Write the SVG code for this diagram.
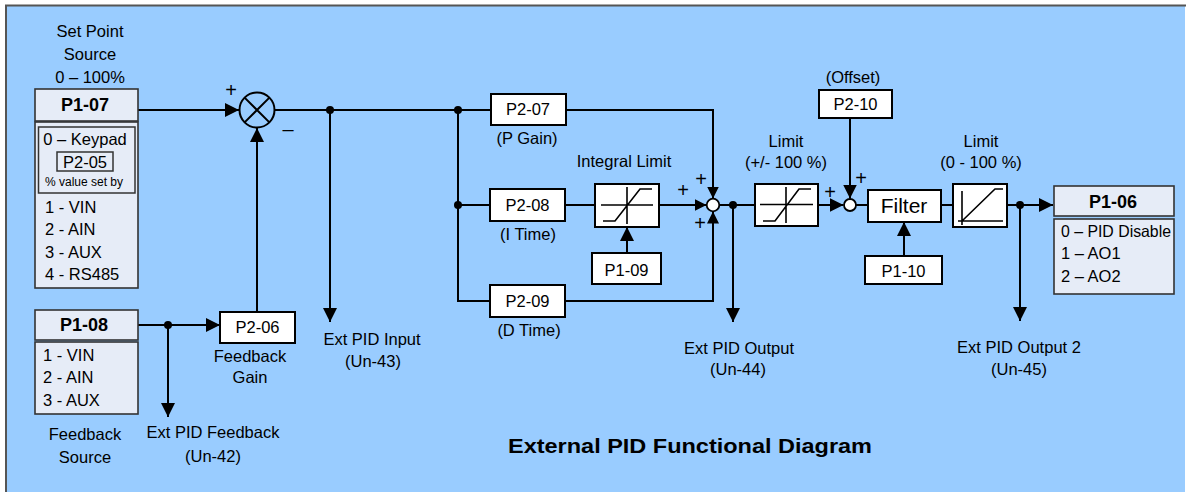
<svg xmlns="http://www.w3.org/2000/svg" width="1186" height="492" viewBox="0 0 1186 492">
<style>
text{font-family:"Liberation Sans",Arial,sans-serif;font-size:16.5px;fill:#000}
.m{text-anchor:middle}
.b{font-weight:bold;font-size:18px}
.sm{font-size:12px}
.pl{font-size:20px}
.wb{fill:#fff;stroke:#000;stroke-width:2}
.lb{fill:#E6ECF7;stroke:#333;stroke-width:1.6}
.ln{fill:none;stroke:#000;stroke-width:2}
.sym{fill:none;stroke:#000;stroke-width:1.6}
.dot{fill:#000}
</style>
<defs>
<marker id="a" markerUnits="userSpaceOnUse" markerWidth="14" markerHeight="14" refX="14" refY="7" orient="auto">
<path d="M0,0 L14,7 L0,14 z" fill="#000"/>
</marker>
<marker id="s" markerUnits="userSpaceOnUse" markerWidth="12" markerHeight="12" refX="12" refY="6" orient="auto">
<path d="M0,0 L12,6 L0,12 z" fill="#000"/>
</marker>
</defs>
<rect x="0" y="0" width="1186" height="492" fill="#fff"/>
<rect x="6" y="5" width="1179" height="487" fill="#99CCFF"/>
<path d="M6,492 V5.5 H1186" fill="none" stroke="#555" stroke-width="2"/>

<g id="connectors">
<path class="ln" d="M138,110 H239" marker-end="url(#a)"/>
<path class="ln" d="M274.5,110 H491"/>
<path class="ln" d="M330,110 V322" marker-end="url(#a)"/>
<path class="ln" d="M458,110 V301 H490"/>
<path class="ln" d="M458,205 H490"/>
<path class="ln" d="M566,110 H713 V198.5" marker-end="url(#s)"/>
<path class="ln" d="M565,205 H595"/>
<path class="ln" d="M659,205 H706.5" marker-end="url(#s)"/>
<path class="ln" d="M565,301 H713 V211.5" marker-end="url(#s)"/>
<path class="ln" d="M719.5,205 H755"/>
<path class="ln" d="M733,205 V322" marker-end="url(#a)"/>
<path class="ln" d="M627,253 V227" marker-end="url(#a)"/>
<path class="ln" d="M818,205 H843.5" marker-end="url(#a)"/>
<path class="ln" d="M850,118 V198.5" marker-end="url(#a)"/>
<path class="ln" d="M856,205 H868"/>
<path class="ln" d="M904,256 V222" marker-end="url(#a)"/>
<path class="ln" d="M941,205 H953"/>
<path class="ln" d="M1007,205 H1053" marker-end="url(#a)"/>
<path class="ln" d="M1020,205 V321" marker-end="url(#a)"/>
<path class="ln" d="M138,325 H220" marker-end="url(#a)"/>
<path class="ln" d="M168,325 V417" marker-end="url(#a)"/>
<path class="ln" d="M257,312 V128" marker-end="url(#a)"/>
<circle class="dot" cx="330" cy="110" r="4"/>
<circle class="dot" cx="458" cy="110" r="4"/>
<circle class="dot" cx="458" cy="205" r="4"/>
<circle class="dot" cx="733" cy="205" r="4"/>
<circle class="dot" cx="1020" cy="205" r="4"/>
<circle class="dot" cx="168" cy="325" r="4"/>
</g>

<g id="setpoint-label">
<text class="m" x="90" y="37">Set Point</text>
<text class="m" x="90" y="60">Source</text>
<text class="m" x="90" y="83">0 – 100%</text>
</g>
<g id="p1-07">
<rect class="lb" x="35" y="89" width="103" height="32"/>
<text class="m b" x="85" y="111">P1-07</text>
<rect class="lb" x="35" y="122" width="103" height="166"/>
<rect x="38.5" y="127" width="96.5" height="66" fill="none" stroke="#333" stroke-width="1.5"/>
<text class="m" x="85" y="145">0 – Keypad</text>
<rect x="57" y="152" width="56" height="19" fill="none" stroke="#333" stroke-width="1.5"/>
<text class="m" x="85" y="168">P2-05</text>
<text class="m sm" x="84" y="186">% value set by</text>
<text x="45" y="213">1 - VIN</text>
<text x="45" y="235">2 - AIN</text>
<text x="45" y="258">3 - AUX</text>
<text x="45" y="280">4 - RS485</text>
</g>
<g id="p1-08">
<rect class="lb" x="35" y="310" width="103" height="30"/>
<text class="m b" x="84" y="331">P1-08</text>
<rect class="lb" x="35" y="342" width="103" height="72"/>
<text x="43" y="361">1 - VIN</text>
<text x="43" y="383">2 - AIN</text>
<text x="43" y="406">3 - AUX</text>
<text class="m" x="85" y="440">Feedback</text>
<text class="m" x="85" y="463">Source</text>
</g>
<g id="ext-pid-feedback">
<text class="m" x="213" y="438">Ext PID Feedback</text>
<text class="m" x="213" y="462">(Un-42)</text>
</g>
<g id="p2-06">
<rect class="wb" x="220" y="312" width="75" height="31"/>
<text class="m" x="257.5" y="333">P2-06</text>
<text class="m" x="250" y="362">Feedback</text>
<text class="m" x="250" y="383">Gain</text>
</g>
<g id="sum1">
<circle cx="257" cy="110" r="17.5" fill="none" stroke="#000" stroke-width="2"/>
<path d="M244.6,97.6 L269.4,122.4 M269.4,97.6 L244.6,122.4" stroke="#000" stroke-width="2"/>
<text class="m pl" x="231" y="97">+</text>
<text class="m pl" x="288" y="136">–</text>
</g>
<g id="ext-pid-input">
<text class="m" x="372" y="345">Ext PID Input</text>
<text class="m" x="373" y="367">(Un-43)</text>
</g>
<g id="p2-07">
<rect class="wb" x="491" y="94" width="75" height="31"/>
<text class="m" x="528" y="115">P2-07</text>
<text class="m" x="527" y="144">(P Gain)</text>
</g>
<g id="p2-08">
<rect class="wb" x="490" y="189" width="75" height="32"/>
<text class="m" x="527.5" y="211">P2-08</text>
<text class="m" x="528" y="240">(I Time)</text>
</g>
<g id="p2-09">
<rect class="wb" x="490" y="285" width="75" height="32"/>
<text class="m" x="527.5" y="307">P2-09</text>
<text class="m" x="529" y="336">(D Time)</text>
</g>
<g id="integral-limit">
<text class="m" x="624" y="167">Integral Limit</text>
<rect class="wb" x="595" y="184" width="64" height="43"/>
<path class="sym" d="M601,205 H653 M627,187 V224 M603,221 H615 L640,189 H652"/>
</g>
<g id="p1-09">
<rect class="wb" x="592" y="253" width="69" height="31"/>
<text class="m" x="626.5" y="276">P1-09</text>
</g>
<g id="sum2">
<circle cx="713" cy="205" r="6.3" fill="#fff" stroke="#000" stroke-width="1.8"/>
<text class="m pl" x="683" y="197">+</text>
<text class="m pl" x="701" y="186">+</text>
<text class="m pl" x="700" y="230">+</text>
</g>
<g id="ext-pid-output">
<text class="m" x="739" y="354">Ext PID Output</text>
<text class="m" x="738" y="375">(Un-44)</text>
</g>
<g id="limit1">
<text class="m" x="786" y="147">Limit</text>
<text class="m" x="786" y="168">(+/- 100 %)</text>
<rect class="wb" x="755" y="184" width="63" height="42"/>
<path class="sym" d="M760,204.5 H813 M786,187 V223 M763,221 H775 L799,189 H811"/>
</g>
<g id="p2-10">
<text class="m" x="853" y="83">(Offset)</text>
<rect class="wb" x="819" y="90" width="73" height="28"/>
<text class="m" x="855.5" y="110">P2-10</text>
</g>
<g id="sum3">
<circle cx="850" cy="205" r="6" fill="#fff" stroke="#000" stroke-width="1.8"/>
<text class="m pl" x="830" y="199">+</text>
<text class="m pl" x="861" y="185">+</text>
</g>
<g id="filter">
<rect class="wb" x="868" y="190" width="73" height="32"/>
<text class="m" x="904" y="213" style="font-size:21px">Filter</text>
</g>
<g id="p1-10">
<rect class="wb" x="865" y="256" width="77" height="28"/>
<text class="m" x="903.5" y="277">P1-10</text>
</g>
<g id="limit2">
<text class="m" x="981" y="147">Limit</text>
<text class="m" x="981" y="168">(0 - 100 %)</text>
<rect class="wb" x="953" y="184" width="54" height="43"/>
<path class="sym" d="M958,221 H1003 M962,191 V225 M962,221 L995,189 H1003"/>
</g>
<g id="p1-06">
<rect class="lb" x="1054" y="186" width="120" height="30"/>
<text class="m b" x="1113" y="208">P1-06</text>
<rect class="lb" x="1054" y="219" width="120" height="75"/>
<text x="1061" y="237" textLength="110" lengthAdjust="spacingAndGlyphs">0 – PID Disable</text>
<text x="1061" y="259">1 – AO1</text>
<text x="1061" y="282">2 – AO2</text>
</g>
<g id="ext-pid-output-2">
<text class="m" x="1019" y="353">Ext PID Output 2</text>
<text class="m" x="1019" y="375">(Un-45)</text>
</g>
<text class="m" x="690" y="453" style="font-weight:bold;font-size:21px" textLength="364" lengthAdjust="spacingAndGlyphs">External PID Functional Diagram</text>
</svg>
